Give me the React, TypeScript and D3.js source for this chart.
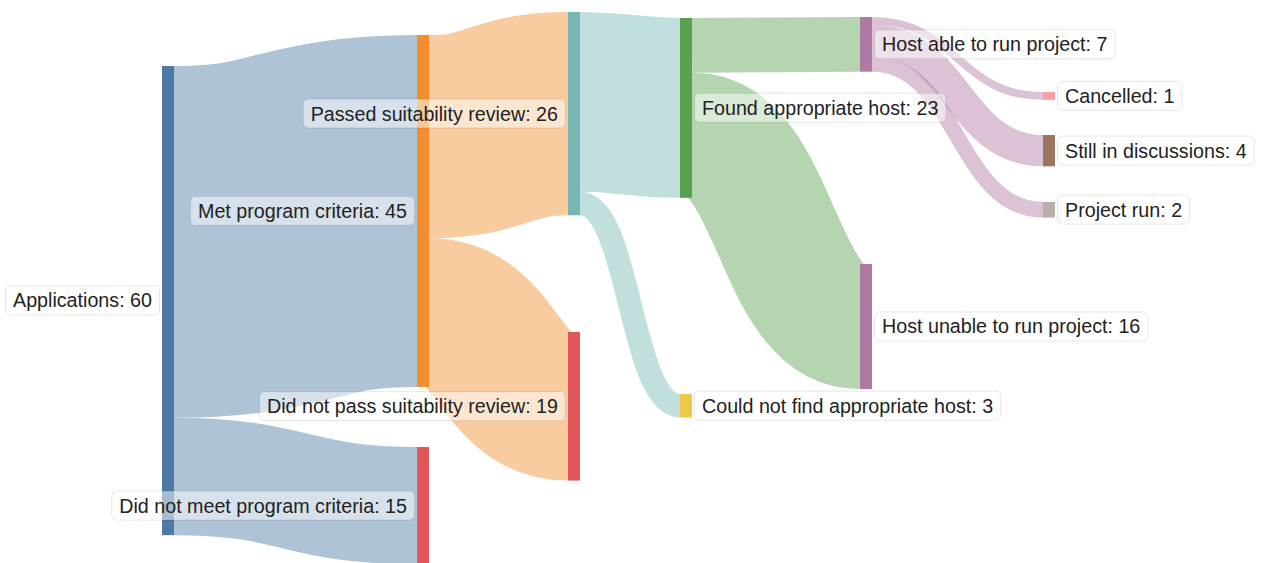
import { useEffect, useRef } from "react";
import * as d3 from "d3";

const nodeNames = [
  "Applications",
  "Met program criteria",
  "Did not meet program criteria",
  "Passed suitability review",
  "Did not pass suitability review",
  "Found appropriate host",
  "Could not find appropriate host",
  "Host able to run project",
  "Host unable to run project",
  "Cancelled",
  "Still in discussions",
  "Project run",
];

const linkSources = [
  "Applications",
  "Applications",
  "Met program criteria",
  "Met program criteria",
  "Passed suitability review",
  "Passed suitability review",
  "Found appropriate host",
  "Found appropriate host",
  "Host able to run project",
  "Host able to run project",
  "Host able to run project",
];

const linkTargets = [
  "Met program criteria",
  "Did not meet program criteria",
  "Passed suitability review",
  "Did not pass suitability review",
  "Found appropriate host",
  "Could not find appropriate host",
  "Host able to run project",
  "Host unable to run project",
  "Cancelled",
  "Still in discussions",
  "Project run",
];

const linkValues = [45, 15, 26, 19, 23, 3, 7, 16, 1, 4, 2];

// saved (dragged) node layout: top of each node, in flow units from the top edge
const nodeTops = [8.44, 4.48, 57.17, 1.53, 42.46, 2.3, 50.39, 2.17, 33.76, 11.77, 17.27, 25.83];
// horizontal position of each column
const columnX = [162, 417, 568, 680, 860, 1043];

interface SNode {
  name: string;
  index: number;
  value: number;
  depth: number;
  sourceLinks: SLink[];
  targetLinks: SLink[];
  x0: number;
  x1: number;
  y0: number;
  y1: number;
}

interface SLink {
  source: SNode;
  target: SNode;
  value: number;
  width: number;
  y0: number;
  y1: number;
}

export default function App() {
  const svgRef = useRef<SVGSVGElement>(null);
  const width = 1261;
  const height = 563;

  useEffect(() => {
    if (!svgRef.current) return;
    const svg = d3.select(svgRef.current);
    svg.selectAll("*").remove();

    const nodeWidth = 12;

    const nodes: SNode[] = nodeNames.map((name, i) => ({
      name,
      index: i,
      value: 0,
      depth: 0,
      sourceLinks: [],
      targetLinks: [],
      x0: 0,
      x1: 0,
      y0: 0,
      y1: 0,
    }));
    const byName = new Map(nodes.map((n) => [n.name, n]));

    const links: SLink[] = linkValues.map((value, i) => ({
      source: byName.get(linkSources[i])!,
      target: byName.get(linkTargets[i])!,
      value,
      width: 0,
      y0: 0,
      y1: 0,
    }));
    links.forEach((l) => {
      l.source.sourceLinks.push(l);
      l.target.targetLinks.push(l);
    });

    nodes.forEach((n) => {
      n.value = Math.max(
        d3.sum(n.sourceLinks, (l) => l.value),
        d3.sum(n.targetLinks, (l) => l.value),
      );
      n.depth = n.targetLinks.length
        ? d3.max(n.targetLinks, (l) => l.source.depth + 1)!
        : 0;
    });

    const x = d3
      .scaleLinear()
      .domain(d3.range(columnX.length))
      .range(columnX);
    const y = d3.scaleLinear().domain([0, 72]).range([0, height]);
    const k = (v: number) => y(v) - y(0);

    nodes.forEach((n, i) => {
      n.x0 = x(n.depth);
      n.x1 = n.x0 + nodeWidth;
      n.y0 = y(nodeTops[i]);
      n.y1 = n.y0 + k(n.value);
    });

    links.forEach((l) => (l.width = k(l.value)));
    nodes.forEach((n) => {
      let yy = n.y0;
      n.sourceLinks
        .slice()
        .sort((a, b) => a.target.y0 - b.target.y0)
        .forEach((l) => {
          l.y0 = yy + l.width / 2;
          yy += l.width;
        });
      yy = n.y0;
      n.targetLinks
        .slice()
        .sort((a, b) => a.source.y0 - b.source.y0)
        .forEach((l) => {
          l.y1 = yy + l.width / 2;
          yy += l.width;
        });
    });

    const color = d3
      .scaleOrdinal<string, string>()
      .domain(Array.from(new Set(nodeNames.map((d) => d.replace(/ .*/, "")))))
      .range(d3.schemeTableau10);
    const nodeColor = (n: SNode) => color(n.name.replace(/ .*/, ""));

    // links
    const linkPath = d3
      .linkHorizontal<SLink, [number, number]>()
      .source((d) => [d.source.x1, d.y0])
      .target((d) => [d.target.x0, d.y1]);

    svg
      .append("g")
      .attr("fill", "none")
      .selectAll("path")
      .data(links)
      .join("path")
      .attr("d", linkPath as any)
      .attr("stroke", (d) => nodeColor(d.source))
      .attr("stroke-opacity", 0.45)
      .attr("stroke-width", (d) => Math.max(1, d.width));

    // nodes
    svg
      .append("g")
      .selectAll("rect")
      .data(nodes)
      .join("rect")
      .attr("x", (d) => d.x0)
      .attr("y", (d) => d.y0)
      .attr("width", (d) => d.x1 - d.x0)
      .attr("height", (d) => Math.max(1, d.y1 - d.y0))
      .attr("fill", (d) => nodeColor(d));

    // labels with soft boxes
    const labels = svg
      .append("g")
      .style("font-family", "'Liberation Sans', Arial, sans-serif")
      .style("font-size", "19.7px")
      .selectAll("g")
      .data(nodes)
      .join("g");

    labels
      .append("text")
      .attr("x", (d) => (d.x0 < width / 2 ? d.x0 - 10 : d.x1 + 10))
      .attr("y", (d) => (d.y0 + d.y1) / 2)
      .attr("dy", "0.35em")
      .attr("text-anchor", (d) => (d.x0 < width / 2 ? "end" : "start"))
      .attr("fill", "#222")
      .text((d) => `${d.name}: ${d.value}`);

    labels.each(function () {
      const g = d3.select(this);
      const t = g.select<SVGTextElement>("text").node()!;
      const b = t.getBBox();
      g.insert("rect", "text")
        .attr("x", b.x - 7.5)
        .attr("y", b.y - 3.5)
        .attr("width", b.width + 15)
        .attr("height", b.height + 7)
        .attr("rx", 5)
        .attr("fill", "#fff")
        .attr("fill-opacity", 0.5)
        .attr("stroke", "#000")
        .attr("stroke-opacity", 0.1);
    });
  }, []);

  return (
    <svg
      ref={svgRef}
      width={width}
      height={height}
      viewBox={`0 0 ${width} ${height}`}
      style={{ position: "absolute", left: 0, top: 0, display: "block" }}
    />
  );
}
